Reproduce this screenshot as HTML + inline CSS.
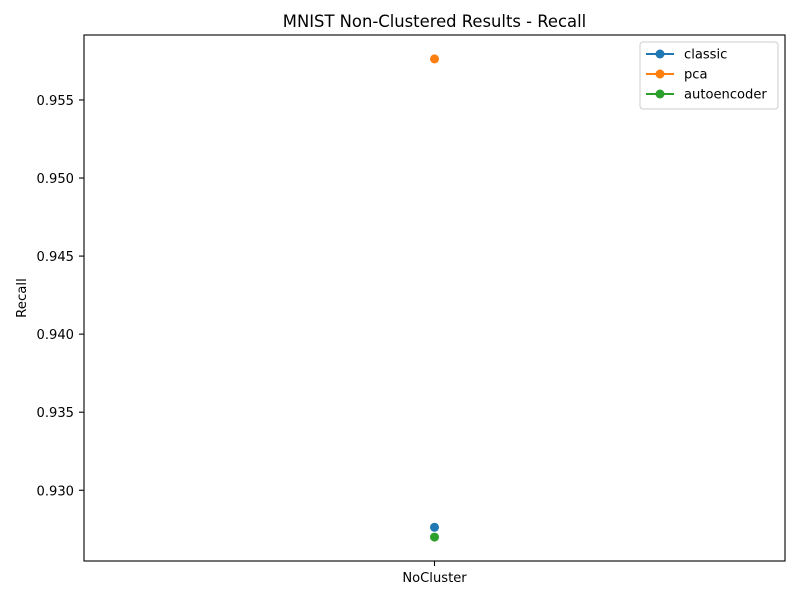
<!DOCTYPE html>
<html><head><meta charset="utf-8"><style>body{margin:0;background:#fff}svg{font-family:"DejaVu Sans","Liberation Sans",sans-serif}</style></head>
<body>
<svg id="chart" width="800" height="600"></svg>
<script>
const categories = ["NoCluster"];
const seriesNames = ["classic","pca","autoencoder"];
const classicValues = [0.92763];
const pcaValues = [0.95763];
const autoencoderValues = [0.9270];
const yTicks = [0.930,0.935,0.940,0.945,0.950,0.955];
const yTickLabels = ["0.930","0.935","0.940","0.945","0.950","0.955"];

const colors = ["#1f77b4","#ff7f0e","#2ca02c"];
const allSeries = [classicValues,pcaValues,autoencoderValues];
const L=84,R=785,T=35,B=561;
const all=allSeries.flat();
let mn=Math.min(...all),mx=Math.max(...all),pad=(mx-mn)*0.05;
const y0=mn-pad,y1=mx+pad;
const ys=v=>B-(v-y0)/(y1-y0)*(B-T);
const xs=i=>categories.length===1?(L+R)/2:L+(R-L)*(0.05+0.9*i/(categories.length-1));
const svg=document.getElementById('chart');
const NS="http://www.w3.org/2000/svg";
function mk(t,a,p){const e=document.createElementNS(NS,t);for(const k in a)e.setAttribute(k,a[k]);(p||svg).appendChild(e);return e;}
let e;
e=mk('rect',{x:L,y:T,width:R-L,height:B-T,fill:'none',stroke:'#000','stroke-width':1.1});


e=mk('text',{x:(L+R)/2,y:27,'text-anchor':'middle','font-size':16.4});e.textContent="MNIST Non-Clustered Results - Recall";


e=mk('text',{x:26,y:(T+B)/2,'text-anchor':'middle','font-size':13.3,transform:`rotate(-90 26 ${(T+B)/2})`});e.textContent="Recall";


yTicks.forEach((v,i)=>{const y=ys(v);
mk('line',{x1:L-5,x2:L,y1:y,y2:y,stroke:'#000','stroke-width':1.1});
e=mk('text',{x:L-10,y:y+5,'text-anchor':'end','font-size':13.1});e.textContent=yTickLabels[i];

});
categories.forEach((c,i)=>{const x=xs(i);
mk('line',{x1:x,x2:x,y1:B,y2:B+5,stroke:'#000','stroke-width':1.1});
e=mk('text',{x:x,y:B+21,'text-anchor':'middle','font-size':13.1});e.textContent=c;

});
allSeries.forEach((s,k)=>{
if(s.length>1){e=mk('polyline',{points:s.map((v,i)=>xs(i)+','+ys(v)).join(' '),fill:'none',stroke:colors[k],'stroke-width':2});}
s.forEach((v,i)=>{e=mk('circle',{cx:xs(i),cy:ys(v),r:4.5,fill:colors[k]});

});});
const lg=mk('g',{});


mk('rect',{x:640,y:42,width:138,height:67,rx:3,fill:'#fff',stroke:'#ccc'},lg);
seriesNames.forEach((n,k)=>{const y=54+k*20;
mk('line',{x1:646,x2:674,y1:y,y2:y,stroke:colors[k],'stroke-width':2},lg);
mk('circle',{cx:660,cy:y,r:4.5,fill:colors[k]},lg);
e=mk('text',{x:684,y:y+4.5,'font-size':13.1},lg);e.textContent=n;

});
</script>
</body></html>
